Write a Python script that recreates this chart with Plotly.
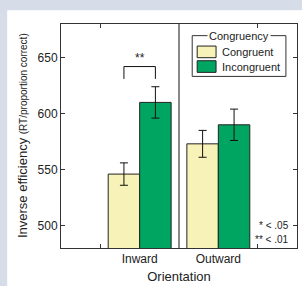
import plotly.graph_objects as go

orientations = ["Inward", "Outward"]
conditions = ["Congruent", "Incongruent"]
congruent_vals = [546, 573]
congruent_err = [10, 12]
incongruent_vals = [610, 590]
incongruent_err = [14, 14]
colors = ["#f7f2b7", "#00a562"]
y_ticks = [500, 550, 600, 650]
sig_label = "**"
sig_notes = ["* < .05", "** < .01"]

xpos = list(range(len(orientations)))
off = 0.2
FONT = "Liberation Sans, Arial, sans-serif"
OUTER = "#d6dde9"

fig = go.Figure()
for i, (vals, errs) in enumerate([(congruent_vals, congruent_err), (incongruent_vals, incongruent_err)]):
    fig.add_trace(go.Bar(
        x=[p + (i * 2 - 1) * off for p in xpos], y=vals, width=0.4,
        marker=dict(color=colors[i], line=dict(color="#222", width=1)),
        error_y=dict(type="data", array=errs, color="#111", thickness=1, width=4),
        name=conditions[i], showlegend=False))

# significance bracket between Inward bars
top = max(incongruent_vals[0] + incongruent_err[0], congruent_vals[0] + congruent_err[0]) + 18
fig.add_trace(go.Scatter(
    x=[xpos[0] - off, xpos[0] - off, xpos[0] + off, xpos[0] + off],
    y=[top - 11, top, top, top - 11], mode="lines",
    line=dict(color="#111", width=1), showlegend=False, hoverinfo="skip"))
fig.add_annotation(x=xpos[0], y=top, text=sig_label, showarrow=False, yanchor="bottom",
                   xanchor="center", font=dict(size=12, color="#222", family=FONT))

# divider between groups
fig.add_shape(type="line", xref="x", yref="paper", x0=0.5, x1=0.5, y0=0, y1=1,
              line=dict(color="#111", width=1))

# outer strips (left and top)
fig.add_shape(type="rect", xref="paper", yref="paper", x0=-0.4, x1=-0.228, y0=-0.3, y1=1.3,
              fillcolor=OUTER, line=dict(width=0), layer="below")
fig.add_shape(type="rect", xref="paper", yref="paper", x0=-0.4, x1=1.3, y0=1.061, y1=1.3,
              fillcolor=OUTER, line=dict(width=0), layer="below")

# custom legend
lx0, lx1, ly0, ly1 = 0.556, 0.953, 0.766, 0.948
fig.add_shape(type="rect", xref="paper", yref="paper", x0=lx0, x1=lx1, y0=ly0, y1=ly1,
              line=dict(color="#333", width=1), fillcolor="white")
fig.add_annotation(xref="paper", yref="paper", x=0.755, y=ly1, text="Congruency", showarrow=False,
                   bgcolor="white", font=dict(size=11, color="#222", family=FONT), borderpad=1,
                   xanchor="center", yanchor="middle")
for i, name in enumerate(conditions):
    yc = 1 - (52.5 + 15 * i - 24) / 229
    fig.add_shape(type="rect", xref="paper", yref="paper", x0=0.577, x1=0.657,
                  y0=yc - 0.026, y1=yc + 0.026, fillcolor=colors[i], line=dict(color="#222", width=1))
    fig.add_annotation(xref="paper", yref="paper", x=0.673, y=yc, text=name, showarrow=False,
                       xanchor="left", yanchor="middle", font=dict(size=11, color="#222", family=FONT))

# significance notes
for i, t in enumerate(sig_notes):
    fig.add_annotation(xref="paper", yref="paper", x=0.976, y=(23 - 14 * i) / 229,
                       text=t, showarrow=False, xanchor="right", yanchor="middle",
                       font=dict(size=10, color="#222", family=FONT))

# y title
fig.add_annotation(xref="paper", yref="paper", x=-0.165, y=0.5, textangle=-90, showarrow=False,
                   xanchor="center", yanchor="middle",
                   text='Inverse efficiency <span style="font-size:10px">(RT/proportion correct)</span>',
                   font=dict(size=13, color="#222", family=FONT))

fig.update_layout(
    width=302, height=286, autosize=False, margin=dict(l=61, r=4, t=24, b=33),
    paper_bgcolor="white", plot_bgcolor="white",
    font=dict(family=FONT, color="#222", size=12),
    barmode="overlay",
    xaxis=dict(range=[-1, 2], tickvals=xpos, ticktext=orientations, ticks="inside", ticklen=0,
               showgrid=False, zeroline=False, showline=True, linecolor="#333", linewidth=1,
               mirror="ticks", tickfont=dict(size=12),
               minor=dict(tickvals=[-0.5, 1.5], ticks="inside", ticklen=4, tickcolor="#333", showgrid=False),
               title=dict(text="Orientation", font=dict(size=13), standoff=6)),
    yaxis=dict(range=[480, 680], tickvals=y_ticks, ticks="inside", ticklen=4, tickcolor="#333",
               showgrid=False, zeroline=False, showline=True, linecolor="#333", linewidth=1,
               mirror="ticks", tickfont=dict(size=12)),
    showlegend=False,
)

fig.write_html("out.html", config={"displayModeBar": False, "responsive": False},
               post_script="document.body.style.margin='0px';document.body.style.overflow='hidden';")
